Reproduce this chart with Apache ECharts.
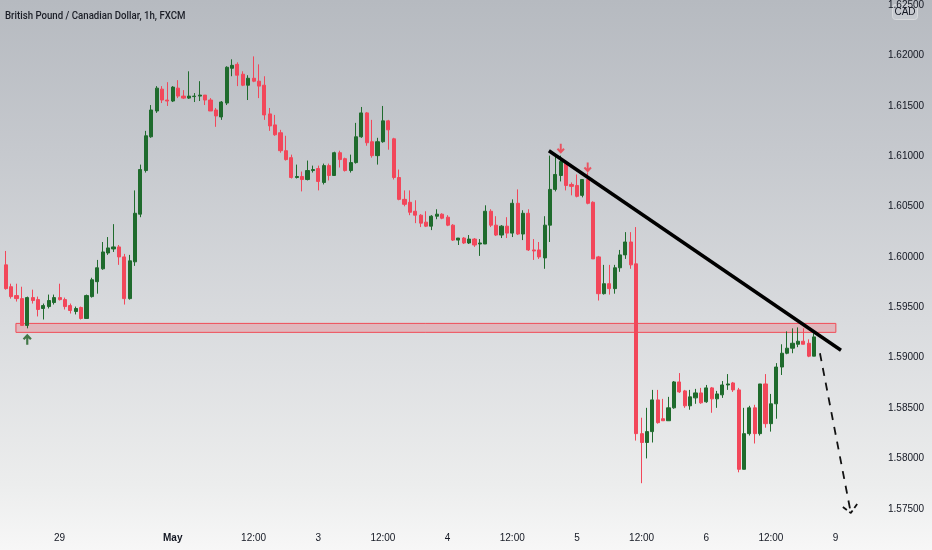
<!DOCTYPE html>
<html><head><meta charset="utf-8">
<script src="https://cdn.jsdelivr.net/npm/echarts@6/dist/echarts.min.js"></script>
<style>
html,body{margin:0;padding:0;}
#c{width:932px;height:550px;background:linear-gradient(to bottom,#b6bac0 0%,#c6c9ce 28%,#d9dbde 58%,#eceded 88%,#f7f7f7 100%);}
</style>
</head><body><div id="c"></div>
<script>
// ---- data ----
const slotCount = 162;
const categories = Array.from({length: slotCount}, (_, i) => String(i));
const tickIdx  = [10, 31, 46, 58, 70, 82, 94, 106, 118, 130, 142, 154];
const tickText = ['29', 'May', '12:00', '3', '12:00', '4', '12:00', '5', '12:00', '6', '12:00', '9'];
const priceTicks = [1.575, 1.580, 1.585, 1.590, 1.595, 1.600, 1.605, 1.610, 1.615, 1.620, 1.625];

const opens = [
1.59921,1.59704,1.59616,1.59586,1.59320,1.59596,1.59576,1.59488,1.59507,1.59547,
1.59596,1.59576,1.59517,1.59458,1.59498,1.59389,1.59606,1.59754,1.59882,1.60039,
1.60079,1.60099,1.60000,1.59586,1.59951,1.60424,1.60857,1.61192,1.61448,1.61665,
1.61557,1.61547,1.61675,1.61596,1.61576,1.61591,1.61596,1.61606,1.61557,1.61458,
1.61389,1.61527,1.61872,1.61911,1.61813,1.61704,1.61773,1.61744,1.61704,1.61419,
1.61310,1.61232,1.61054,1.60985,1.60788,1.60798,1.60768,1.60857,1.60877,1.60739,
1.60906,1.60808,1.61034,1.60975,1.60857,1.60936,1.61192,1.61429,1.61143,1.61005,
1.61143,1.61350,1.61172,1.60788,1.60571,1.60542,1.60453,1.60414,1.60345,1.60305,
1.60404,1.60424,1.60394,1.60315,1.60167,1.60187,1.60138,1.60177,1.60128,1.60128,
1.60453,1.60315,1.60217,1.60305,1.60236,1.60532,1.60227,1.60433,1.60069,1.60069,
1.59990,1.60315,1.60670,1.60808,1.60936,1.60719,1.60709,1.60611,1.60768,1.60542,
1.60000,1.59635,1.59734,1.59685,1.59892,1.60020,1.60148,1.59931,1.58246,1.58158,
1.58266,1.58581,1.58394,1.58374,1.58502,1.58759,1.58670,1.58522,1.58601,1.58650,
1.58562,1.58700,1.58591,1.58631,1.58729,1.58749,1.58680,1.57892,1.58246,1.58502,
1.58246,1.58739,1.58345,1.58542,1.58907,1.59044,1.59094,1.59133,1.59163,1.59143,
1.59015];
const closes = [
1.59685,1.59606,1.59586,1.59320,1.59596,1.59567,1.59478,1.59517,1.59567,1.59596,
1.59576,1.59507,1.59468,1.59488,1.59389,1.59616,1.59773,1.59892,1.60049,1.60089,
1.60099,1.60000,1.59586,1.59961,1.60433,1.60867,1.61202,1.61458,1.61675,1.61557,
1.61547,1.61685,1.61596,1.61576,1.61596,1.61596,1.61606,1.61557,1.61448,1.61399,
1.61537,1.61882,1.61901,1.61803,1.61704,1.61773,1.61744,1.61695,1.61409,1.61300,
1.61212,1.61054,1.60966,1.60788,1.60798,1.60768,1.60857,1.60867,1.60749,1.60906,
1.60808,1.61034,1.60966,1.60857,1.60936,1.61192,1.61429,1.61133,1.61005,1.61143,
1.61350,1.61261,1.60788,1.60571,1.60522,1.60443,1.60414,1.60335,1.60305,1.60404,
1.60424,1.60384,1.60315,1.60167,1.60187,1.60138,1.60177,1.60118,1.60138,1.60453,
1.60315,1.60217,1.60305,1.60236,1.60532,1.60227,1.60433,1.60069,1.60059,1.60000,
1.60315,1.60670,1.60818,1.60946,1.60709,1.60700,1.60601,1.60768,1.60532,1.59980,
1.59635,1.59734,1.59685,1.59892,1.60020,1.60148,1.59921,1.58246,1.58158,1.58266,
1.58581,1.58355,1.58374,1.58502,1.58759,1.58660,1.58522,1.58611,1.58650,1.58552,
1.58700,1.58591,1.58640,1.58729,1.58739,1.58680,1.57892,1.58246,1.58502,1.58246,
1.58739,1.58345,1.58542,1.58907,1.59044,1.59094,1.59143,1.59163,1.59133,1.59015,
1.59206];
const lows = [
1.59675,1.59586,1.59557,1.59320,1.59291,1.59537,1.59409,1.59379,1.59488,1.59527,
1.59567,1.59478,1.59438,1.59429,1.59379,1.59389,1.59596,1.59635,1.59872,1.60020,
1.60049,1.59921,1.59527,1.59576,1.59911,1.60394,1.60837,1.61182,1.61429,1.61527,
1.61498,1.61537,1.61576,1.61567,1.61567,1.61537,1.61547,1.61507,1.61448,1.61291,
1.61360,1.61507,1.61793,1.61695,1.61695,1.61557,1.61734,1.61576,1.61360,1.61251,
1.61202,1.61034,1.60956,1.60778,1.60778,1.60650,1.60759,1.60837,1.60660,1.60719,
1.60759,1.60808,1.60887,1.60847,1.60837,1.60926,1.61182,1.61103,1.60985,1.60916,
1.61133,1.61064,1.60768,1.60562,1.60502,1.60414,1.60335,1.60296,1.60296,1.60266,
1.60374,1.60374,1.60305,1.60158,1.60118,1.60128,1.60128,1.60099,1.60010,1.60128,
1.60296,1.60207,1.60187,1.60187,1.60197,1.60217,1.60167,1.60059,1.59970,1.59980,
1.59882,1.60148,1.60650,1.60749,1.60660,1.60611,1.60591,1.60591,1.60522,1.59980,
1.59567,1.59626,1.59626,1.59635,1.59852,1.59980,1.59882,1.58177,1.57754,1.58000,
1.58158,1.58345,1.58374,1.58374,1.58493,1.58650,1.58502,1.58483,1.58542,1.58542,
1.58552,1.58453,1.58502,1.58601,1.58680,1.58660,1.57862,1.57892,1.58227,1.58148,
1.58227,1.58305,1.58266,1.58394,1.58828,1.59034,1.59044,1.59104,1.59133,1.59005,
1.59015];
const highs = [
1.60059,1.59734,1.59734,1.59704,1.59606,1.59675,1.59606,1.59537,1.59626,1.59626,
1.59734,1.59596,1.59537,1.59507,1.59507,1.59626,1.59793,1.59970,1.60148,1.60197,
1.60325,1.60118,1.60030,1.60020,1.60660,1.60916,1.61251,1.61507,1.61695,1.61695,
1.61734,1.61695,1.61754,1.61655,1.61842,1.61626,1.61744,1.61606,1.61576,1.61478,
1.61547,1.61892,1.61961,1.61931,1.61842,1.61803,1.61990,1.61911,1.61793,1.61478,
1.61409,1.61261,1.61202,1.61015,1.60916,1.60847,1.60956,1.60906,1.60906,1.60926,
1.60926,1.61044,1.61054,1.60985,1.61015,1.61330,1.61488,1.61438,1.61360,1.61182,
1.61498,1.61360,1.61182,1.60867,1.60660,1.60660,1.60562,1.60424,1.60453,1.60414,
1.60473,1.60433,1.60414,1.60325,1.60187,1.60197,1.60217,1.60187,1.60177,1.60512,
1.60473,1.60404,1.60315,1.60394,1.60571,1.60670,1.60463,1.60473,1.60177,1.60148,
1.60404,1.61005,1.60995,1.61005,1.60956,1.60739,1.60818,1.60768,1.60837,1.60552,
1.60010,1.59921,1.59921,1.59921,1.60069,1.60246,1.60246,1.60296,1.58404,1.58502,
1.58680,1.58680,1.58591,1.58611,1.58768,1.58847,1.58680,1.58680,1.58690,1.58700,
1.58729,1.58709,1.58670,1.58768,1.58837,1.58759,1.58700,1.58502,1.58522,1.58532,
1.58739,1.58837,1.58640,1.58946,1.59133,1.59261,1.59291,1.59300,1.59291,1.59182,
1.59241];

const lastPrice = 1.59206;
const zone = {x0: 1.9, x1: 154.05, top: 1.59340, bottom: 1.59251};
const trendLine = [[100.8, 1.61054], [155.0, 1.59074]];
const projection = [[151.1, 1.59044], [156.83, 1.57458]];
const projectionHead = [[155.35, 1.57517], [156.83, 1.57458], [158.0, 1.57547]];
const upArrows = [[4, 1.59182]];
const downArrows = [[103, 1.61074], [108, 1.60887]];

// ---- chart ----
const candles = opens.map((o, i) => [o, closes[i], lows[i], highs[i]]);
const UP = '#1f6b2d', DOWN = '#f2475a';
const arrowPath = 'path://M5,0 L10,5 L8.2,6.8 L6.2,4.8 L6.2,12 L3.8,12 L3.8,4.8 L1.8,6.8 L0,5 Z';
const font = "'Liberation Sans', Arial, sans-serif";

const chart = echarts.init(document.getElementById('c'), null, {renderer: 'canvas'});
chart.setOption({
  animation: false,
  backgroundColor: 'transparent',
  grid: {left: 3, right: 56, top: 0, bottom: 28},
  xAxis: [{
    type: 'category', data: categories, boundaryGap: true,
    axisLine: {show: false}, axisTick: {show: false}, splitLine: {show: false},
    axisLabel: {
      interval: (idx) => tickIdx.indexOf(idx) >= 0,
      formatter: (v, idx) => {
        const k = tickIdx.indexOf(Number(v));
        if (k < 0) return '';
        return tickText[k] === 'May' ? '{b|May}' : tickText[k];
      },
      rich: {b: {fontWeight: 'bold', fontSize: 10, color: '#131722', fontFamily: font}},
      color: '#131722', fontSize: 10, fontFamily: font, margin: 11
    }
  }, {
    type: 'value', min: -0.5, max: slotCount - 0.5, show: false
  }],
  yAxis: {
    type: 'value', position: 'right', min: 1.57369, max: 1.62512, scale: true,
    axisLine: {show: false}, axisTick: {show: false}, splitLine: {show: false},
    axisLabel: {customValues: priceTicks, formatter: (v) => v.toFixed(5),
      color: '#131722', fontSize: 10, fontFamily: font, margin: 12}
  },
  series: [{
    type: 'candlestick', data: candles, barWidth: '66%', xAxisIndex: 0,
    itemStyle: {color: UP, color0: DOWN, borderColor: UP, borderColor0: DOWN, borderWidth: 1},
    markLine: {
      silent: true, symbol: 'none',
      data: [{yAxis: lastPrice}],
      lineStyle: {opacity: 0},
      label: {position: 'end', distance: 2, formatter: () => lastPrice.toFixed(5),
        backgroundColor: '#1e6b2e', color: '#e8f5e9', fontSize: 10.5, fontFamily: font,
        padding: [3, 5, 2, 5]}
    }
  }, {
    type: 'line', xAxisIndex: 1, data: trendLine, symbol: 'none', silent: true,
    lineStyle: {color: '#000', width: 3.5},
    markArea: {
      silent: true,
      itemStyle: {color: 'rgba(242,90,100,0.28)', borderColor: '#f04a55', borderWidth: 1},
      data: [[{coord: [zone.x0, zone.top]}, {coord: [zone.x1, zone.bottom]}]]
    },
    z: 5
  }, {
    type: 'line', xAxisIndex: 1, data: projection, symbol: 'none', silent: true,
    lineStyle: {color: '#111', width: 1.8, type: [8, 7]}, z: 5
  }, {
    type: 'line', xAxisIndex: 1, data: projectionHead, symbol: 'none', silent: true,
    lineStyle: {color: '#111', width: 1.8, type: [5, 3]}, z: 5
  }, {
    type: 'scatter', xAxisIndex: 1, data: upArrows, symbol: arrowPath, symbolSize: [9, 11],
    itemStyle: {color: '#1b5e20'}, silent: true, z: 6
  }, {
    type: 'scatter', xAxisIndex: 1, data: downArrows, symbol: arrowPath, symbolSize: [8, 10],
    symbolRotate: 180, itemStyle: {color: '#f23645'}, silent: true, z: 6
  }],
  graphic: [{
    type: 'text', left: 5, top: 10, scaleX: 0.84,
    style: {text: 'British Pound / Canadian Dollar, 1h, FXCM', fontSize: 11.5, fontWeight: 500,
      fill: '#1a1d26', fontFamily: "Roboto, 'Liberation Sans', sans-serif"}
  }, {
    type: 'group', right: 14, top: 4,
    children: [
      {type: 'rect', shape: {x: 0, y: 0, width: 25, height: 15, r: 3},
       style: {fill: 'rgba(200,203,208,0.9)', stroke: '#d8dadd', lineWidth: 1}},
      {type: 'text', style: {text: 'CAD', x: 12.5, y: 8, align: 'center', verticalAlign: 'middle',
       fontSize: 10, fill: '#131722', fontFamily: font}}
    ]
  }]
});
</script></body></html>
